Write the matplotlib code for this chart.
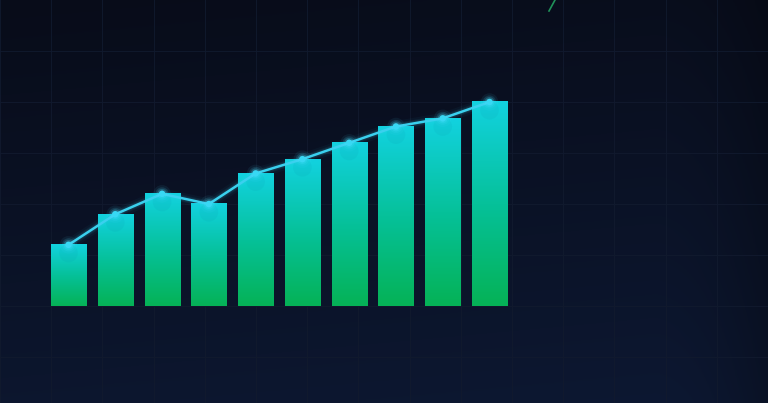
import numpy as np
import matplotlib
matplotlib.use("Agg")
import matplotlib.pyplot as plt
from matplotlib.colors import LinearSegmentedColormap

# ---- data ----
categories = list(range(1, 11))
values = [30, 45, 55, 50, 65, 72, 80, 88, 92, 100]

# ---- style ----
bg_top = "#080c19"
bg_bottom = "#0d1832"
grid_color = "#111a2e"
bar_bottom_color = "#05b256"
bar_top_color = "#12d2e0"
line_color = "#3ad0ee"

W, H = 768, 403
fig = plt.figure(figsize=(W / 100, H / 100), dpi=100)

# background axes
bg = fig.add_axes([0, 0, 1, 1])
bg.set_xlim(0, W)
bg.set_ylim(H, 0)
bg.axis("off")
yy = np.linspace(0, 1, 200)[:, None]
xx = np.linspace(0, 1, 300)[None, :]
c0 = np.array(matplotlib.colors.to_rgb(bg_top))
c1 = np.array(matplotlib.colors.to_rgb(bg_bottom))
t = (yy * 0.85 + xx * 0.15)
img = c0[None, None, :] * (1 - t[..., None]) + c1[None, None, :] * t[..., None]
vign = 1 - 0.25 * np.clip((xx - 0.85) / 0.15, 0, 1) ** 2
img = img * vign[..., None]
bg.imshow(img, extent=[0, W, H, 0], aspect="auto", zorder=0)
step = 51.2
for gx in np.arange(0, W + 1, step):
    bg.axvline(gx, color=grid_color, lw=0.7, alpha=0.9, zorder=1)
for gy in np.arange(51, H, 51):
    bg.axhline(gy, color=grid_color, lw=0.7, alpha=0.9, zorder=1)
# small green stroke at top
bg.plot([549, 555], [11, 0], color="#22a060", lw=1.2, alpha=0.9, zorder=2)

# main chart axes
ax = fig.add_axes([0, 0, 1, 1])
ax.patch.set_alpha(0)
ax.axis("off")
x = np.arange(len(categories))
ax.set_xlim(-1.464, 14.953)
ax.set_ylim(-47.5, 150)

cmap = LinearSegmentedColormap.from_list("bar", [bar_bottom_color, "#06c19a", bar_top_color])
grad = np.linspace(0, 1, 256)[:, None]
bars = ax.bar(x, values, width=0.75, color="none", edgecolor="none", zorder=3)
for b in bars:
    x0, y0 = b.get_x(), b.get_y()
    w, h = b.get_width(), b.get_height()
    ax.imshow(grad, cmap=cmap, origin="lower", extent=[x0, x0 + w, y0, y0 + h],
              aspect="auto", zorder=3, interpolation="bilinear")
    ax.scatter([x0 + w / 2], [y0 + h - 4], s=180, color="#0a8fa8", alpha=0.1,
               zorder=4, edgecolors="none")

# line with glow
for lw, a in [(8, 0.04), (5, 0.07), (3.5, 0.1)]:
    ax.plot(x, values, color=line_color, lw=lw, alpha=a, zorder=5,
            solid_capstyle="round")
ax.plot(x, values, color=line_color, lw=1.8, zorder=6)
for s, a in [(160, 0.07), (90, 0.13), (50, 0.22)]:
    ax.scatter(x, values, s=s, color="#4ae0ff", alpha=a, zorder=6, edgecolors="none")
ax.scatter(x, values, s=22, color="#38d8f4", zorder=7, edgecolors="none")

fig.savefig("out.png", dpi=100)
